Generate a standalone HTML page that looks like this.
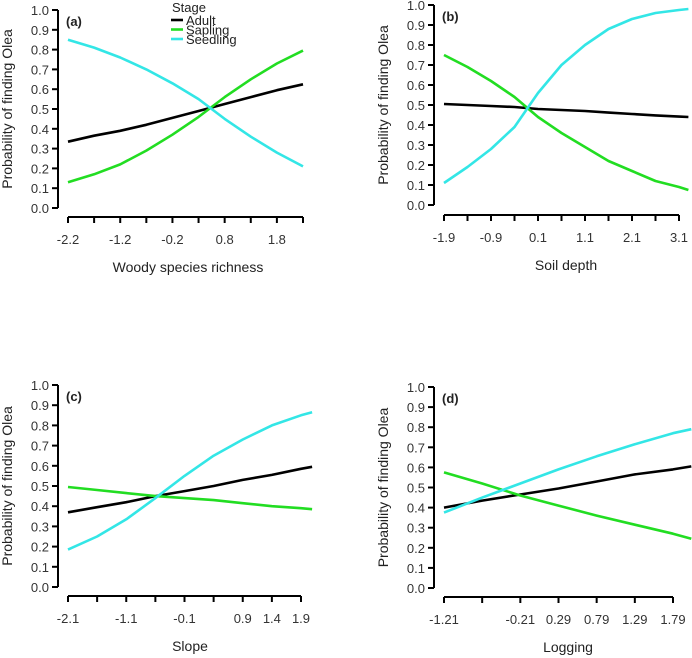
<!DOCTYPE html>
<html><head><meta charset="utf-8"><style>
body{margin:0;background:#fff;}
svg{display:block;font-family:"Liberation Sans",Arial,sans-serif;}
</style></head><body>
<svg id="fig" width="692" height="658" viewBox="0 0 692 658" xmlns="http://www.w3.org/2000/svg"></svg>
<script>
// Panel (a): Woody species richness
const aX = [-2.2,-1.7,-1.2,-0.7,-0.2,0.3,0.8,1.3,1.8,2.3];
const aAdult = [0.335,0.365,0.39,0.42,0.455,0.49,0.525,0.56,0.595,0.625];
const aSapling = [0.13,0.17,0.22,0.29,0.37,0.46,0.56,0.65,0.73,0.795];
const aSeedling = [0.85,0.81,0.76,0.70,0.63,0.55,0.45,0.36,0.28,0.21];
const aTicks = [-2.2,-1.7,-1.2,-0.7,-0.2,0.3,0.8,1.3,1.8,2.3];
const aLabels = ["-2.2","","-1.2","","-0.2","","0.8","","1.8",""];
// Panel (b): Soil depth
const bX = [-1.9,-1.4,-0.9,-0.4,0.1,0.6,1.1,1.6,2.1,2.6,3.1,3.3];
const bAdult = [0.505,0.50,0.495,0.49,0.48,0.475,0.47,0.462,0.455,0.448,0.442,0.44];
const bSapling = [0.75,0.69,0.62,0.54,0.44,0.36,0.29,0.22,0.17,0.12,0.09,0.075];
const bSeedling = [0.11,0.19,0.28,0.39,0.56,0.70,0.80,0.88,0.93,0.96,0.975,0.98];
const bTicks = [-1.9,-1.4,-0.9,-0.4,0.1,0.6,1.1,1.6,2.1,2.6,3.1];
const bLabels = ["-1.9","","-0.9","","0.1","","1.1","","2.1","","3.1"];
// Panel (c): Slope
const cX = [-2.1,-1.6,-1.1,-0.6,-0.1,0.4,0.9,1.4,1.9,2.09];
const cAdult = [0.37,0.395,0.42,0.45,0.475,0.50,0.53,0.555,0.585,0.595];
const cSapling = [0.495,0.48,0.465,0.45,0.44,0.43,0.415,0.40,0.39,0.385];
const cSeedling = [0.185,0.25,0.335,0.44,0.55,0.65,0.73,0.80,0.85,0.865];
const cTicks = [-2.1,-1.6,-1.1,-0.6,-0.1,0.4,0.9,1.4,1.9];
const cLabels = ["-2.1","","-1.1","","-0.1","","0.9","1.4","1.9"];
// Panel (d): Logging
const dX = [-1.21,-0.71,-0.21,0.29,0.79,1.29,1.79,2.03];
const dAdult = [0.40,0.435,0.465,0.495,0.53,0.565,0.59,0.605];
const dSapling = [0.575,0.52,0.46,0.41,0.36,0.315,0.27,0.245];
const dSeedling = [0.375,0.45,0.52,0.59,0.655,0.715,0.77,0.79];
const dTicks = [-1.21,-0.71,-0.21,0.29,0.79,1.29,1.79];
const dLabels = ["-1.21","","-0.21","0.29","0.79","1.29","1.79"];
const yTicks = [0,0.1,0.2,0.3,0.4,0.5,0.6,0.7,0.8,0.9,1.0];

const NS="http://www.w3.org/2000/svg";
const svg=document.getElementById('fig');
function mk(tag,attrs,parent){const e=document.createElementNS(NS,tag);for(const k in attrs)e.setAttribute(k,attrs[k]);(parent||svg).appendChild(e);return e;}

function panel(cfg){
  const g=mk('g',{});
  
  
  const sx=v=>cfg.x0+(v-cfg.t0)/(cfg.t1-cfg.t0)*(cfg.x1-cfg.x0);
  const sy=v=>cfg.y0-v*(cfg.y0-cfg.y1);
  // y axis
  const ya=mk('line',{x1:cfg.ax,x2:cfg.ax,y1:cfg.y1,y2:cfg.y0,stroke:'#000','stroke-width':2},g);
  
  
  yTicks.forEach(t=>{
    mk('line',{x1:cfg.ax-6,x2:cfg.ax,y1:sy(t),y2:sy(t),stroke:'#000','stroke-width':2},g);
    const tx=mk('text',{x:cfg.ax-9,y:sy(t)+5,'text-anchor':'end','font-size':13,fill:'#333'},g);
    tx.textContent=t.toFixed(1);
    
    
  });
  // x axis
  const xa=mk('line',{x1:sx(cfg.ticks[0]),x2:sx(cfg.ticks[cfg.ticks.length-1]),y1:cfg.xay,y2:cfg.xay,stroke:'#000','stroke-width':2},g);
  
  
  cfg.ticks.forEach((t,i)=>{
    mk('line',{x1:sx(t),x2:sx(t),y1:cfg.xay,y2:cfg.xay+6,stroke:'#000','stroke-width':2},g);
    if(cfg.labels[i]){
      const tx=mk('text',{x:sx(t),y:cfg.xay+27,'text-anchor':'middle','font-size':13,fill:'#333'},g);
      tx.textContent=cfg.labels[i];
      
      
    }
  });
  const xt=mk('text',{x:cfg.xtx,y:cfg.xay+55,'text-anchor':'middle','font-size':14,fill:'#222'},g);
  xt.textContent=cfg.xtitle;
  
  
  const ytx=cfg.ax-46, yty=(cfg.y0+cfg.y1)/2;
  const yt=mk('text',{x:ytx,y:yty,'text-anchor':'middle','font-size':14,fill:'#222',transform:`rotate(-90 ${ytx} ${yty})`},g);
  yt.textContent='Probability of finding Olea';
  
  
  const pl=mk('text',{x:cfg.ax+8,y:cfg.y1+16,'font-size':13,'font-weight':'bold',fill:'#222'},g);
  pl.textContent='('+cfg.id+')';
  
  
  const series=[['adult',cfg.adult,'#000'],['sapling',cfg.sapling,'#22dd22'],['seedling',cfg.seedling,'#33e6e6']];
  series.forEach(([nm,vals,col])=>{
    const pts=cfg.xs.map((x,i)=>sx(x).toFixed(1)+','+sy(vals[i]).toFixed(1)).join(' ');
    const p=mk('polyline',{points:pts,fill:'none',stroke:col,'stroke-width':2.6,'stroke-linejoin':'round'},g);
    
    
  });
}
panel({id:'a',ax:58,y0:208,y1:10,xay:217,x0:68,x1:303,t0:-2.2,t1:2.3,ticks:aTicks,labels:aLabels,xs:aX,adult:aAdult,sapling:aSapling,seedling:aSeedling,xtitle:'Woody species richness',xtx:188});
panel({id:'b',ax:434,y0:205,y1:5,xay:215,x0:444,x1:679,t0:-1.9,t1:3.1,ticks:bTicks,labels:bLabels,xs:bX,adult:bAdult,sapling:bSapling,seedling:bSeedling,xtitle:'Soil depth',xtx:566});
panel({id:'c',ax:58,y0:587,y1:385,xay:596,x0:68,x1:301,t0:-2.1,t1:1.9,ticks:cTicks,labels:cLabels,xs:cX,adult:cAdult,sapling:cSapling,seedling:cSeedling,xtitle:'Slope',xtx:190});
panel({id:'d',ax:434,y0:588,y1:387,xay:597,x0:444,x1:673,t0:-1.21,t1:1.79,ticks:dTicks,labels:dLabels,xs:dX,adult:dAdult,sapling:dSapling,seedling:dSeedling,xtitle:'Logging',xtx:568});

// legend
const lg=mk('g',{});


const lt=mk('text',{x:172,y:12,'font-size':13,fill:'#222'},lg);
lt.textContent='Stage';
const entries=[['Adult','#000'],['Sapling','#22dd22'],['Seedling','#33e6e6']];
entries.forEach(([n,c],i)=>{
  const y=20+i*9.5;
  mk('line',{x1:171,x2:183,y1:y,y2:y,stroke:c,'stroke-width':2.6},lg);
  const t=mk('text',{x:186,y:y+5,'font-size':13,fill:'#222'},lg);
  t.textContent=n;
  
  
});
</script>
</body></html>
